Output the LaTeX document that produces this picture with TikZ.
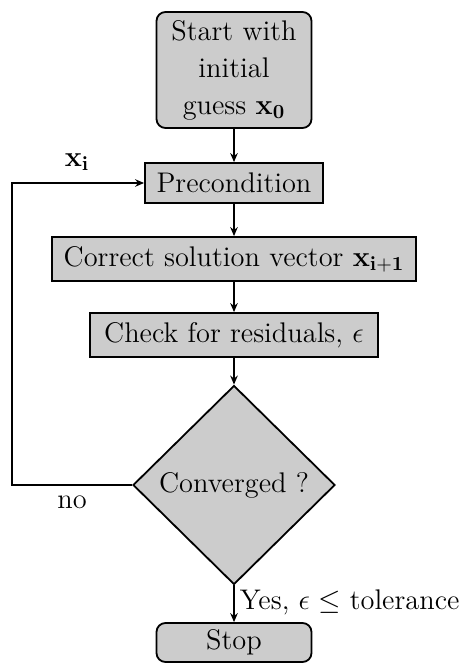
\documentclass[tikz,border=0pt]{standalone}
\usepackage{amsmath}
\usetikzlibrary{shapes.geometric,arrows.meta}
\begin{document}
\begin{tikzpicture}[x=0.5pt,y=-0.5pt,
  every node/.style={font=\fontsize{14.2}{18.5}\selectfont},
  boxbase/.style={draw,line width=0.9pt,fill=gray!40,inner sep=0pt,align=center},
  termbox/.style={boxbase,rounded corners=4.5pt,minimum width=77.5pt},
  procbox/.style={boxbase,minimum height=21pt},
  decbox/.style={boxbase,shape=diamond,minimum width=101pt,minimum height=99.5pt},
  arr/.style={line width=0.9pt,-{Stealth[length=4.5pt,width=3.8pt]}},
  plain/.style={line width=0.9pt}]
\useasboundingbox (0,0) rectangle (462,663);
\node[termbox,minimum height=58pt] (start) at (234,70) {Start with\\initial\\guess $\mathbf{x_0}$};
\node[procbox,minimum width=89pt,minimum height=20pt] (pre) at (234,183) {Precondition};
\node[procbox,minimum width=182pt,minimum height=22pt] (cor) at (234,259) {Correct solution vector $\mathbf{x_{i+1}}$};
\node[procbox,minimum width=144pt,minimum height=22pt] (chk) at (234,335) {Check for residuals, $\epsilon$};
\node[decbox] (dia) at (234,485) {Converged ?};
\node[termbox,minimum height=19.5pt] (stop) at (234,642.5) {Stop};
\coordinate (lx) at (12,330);
\draw[arr] (start) -- (pre);
\draw[arr] (pre) -- (cor);
\draw[arr] (cor) -- (chk);
\draw[arr] (chk) -- (dia);
\draw[arr] (dia) -- (stop) node[pos=0.45,anchor=west,inner sep=1pt,xshift=1.5pt] (yes) {Yes, $\epsilon\leq$ tolerance};
\draw[arr] (dia.west) -| (lx) |- (pre.west);
\node (xi) at (77,162) {$\mathbf{x_i}$};
\node (no) at (72,502) {no};
\end{tikzpicture}
\end{document}
